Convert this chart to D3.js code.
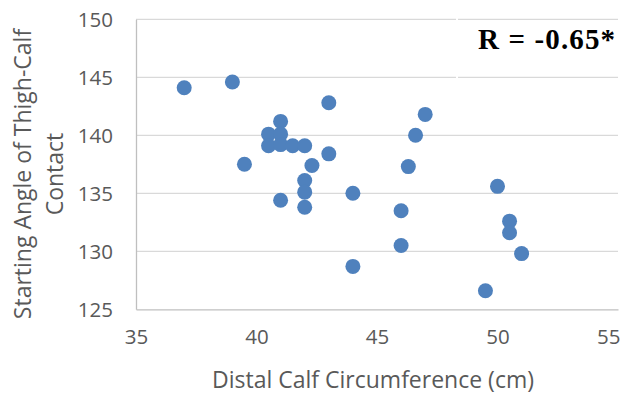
<!DOCTYPE html>
<html>
<head>
<meta charset="utf-8">
<script src="https://cdn.jsdelivr.net/npm/d3@7"></script>
<style>
  html, body { margin: 0; padding: 0; background: #fff; }
  svg { display: block; }
</style>
</head>
<body>
<svg id="chart" width="629" height="397"></svg>
<script>
// Distal calf circumference (cm) and starting angle of thigh-calf contact (deg)
const circumference = [37, 39, 43, 47, 41, 46.6, 40.5, 41, 40.5, 41, 41.5, 42, 43, 39.5, 42.3,
  46.3, 42, 50, 42, 44, 41, 42, 46, 50.5, 50.5, 46, 51, 44, 49.5];
const startAngle = [144.1, 144.6, 142.8, 141.8, 141.2, 140.0, 140.1, 140.1, 139.1, 139.2, 139.1, 139.1, 138.4, 137.5, 137.4,
  137.3, 136.1, 135.6, 135.1, 135.0, 134.4, 133.8, 133.5, 132.6, 131.6, 130.5, 129.8, 128.7, 126.6];

const xTicks = [35, 40, 45, 50, 55];
const yTicks = [125, 130, 135, 140, 145, 150];
const xTitle = "Distal Calf Circumference (cm)";
const yTitleLines = ["Starting Angle of Thigh-Calf", "Contact"];
const rLabel = "R = -0.65*";

const svg = d3.select("#chart");
const plotLeft = 136, plotRight = 618, plotTop = 19.3, plotBottom = 309.3;

const x = d3.scaleLinear().domain([35, 55]).range([plotLeft, plotRight]);
const y = d3.scaleLinear().domain([125, 150]).range([plotBottom, plotTop]);

const font = "'Open Sans', sans-serif";
const textColor = "#595959";

// horizontal gridlines
svg.append("g")
  .selectAll("line")
  .data(yTicks.filter(d => d !== 125))
  .join("line")
  .attr("x1", plotLeft).attr("x2", plotRight)
  .attr("y1", d => y(d)).attr("y2", d => y(d))
  .attr("stroke", "#d9d9d9").attr("stroke-width", 1.3);

// frame edge of the annotation box
svg.append("line")
  .attr("x1", 457).attr("x2", 457).attr("y1", 8).attr("y2", 90)
  .attr("stroke", "#fff").attr("stroke-width", 2);

// y axis
const yAxis = svg.append("g")
  .attr("transform", `translate(${plotLeft},0)`)
  .call(d3.axisLeft(y).tickValues(yTicks).tickSize(0).tickPadding(23));
yAxis.select(".domain").attr("stroke", "#bfbfbf").attr("stroke-width", 1.3);
yAxis.selectAll("text")
  .attr("font-family", font).attr("font-size", 20.5).attr("fill", textColor)
  .attr("dy", "0.36em");

// x axis
const xAxis = svg.append("g")
  .attr("transform", `translate(0,${plotBottom})`)
  .call(d3.axisBottom(x).tickValues(xTicks).tickSize(0).tickPadding(20));
xAxis.select(".domain").attr("stroke", "#bfbfbf").attr("stroke-width", 1.3);
xAxis.selectAll("text")
  .attr("font-family", font).attr("font-size", 20.5).attr("fill", textColor)
  .attr("dy", "0.71em");
// keep the last tick label inside the drawing
xAxis.selectAll(".tick").filter(d => d === 55).select("text")
  .attr("text-anchor", "end").attr("dx", 2);

// axis titles
svg.append("text")
  .attr("x", 373).attr("y", 388)
  .attr("text-anchor", "middle")
  .attr("font-family", font).attr("font-size", 23).attr("fill", textColor)
  .text(xTitle);

const yTitle = svg.append("text")
  .attr("transform", "translate(0,174) rotate(-90)")
  .attr("text-anchor", "middle")
  .attr("font-family", font).attr("font-size", 23).attr("fill", textColor);
yTitle.selectAll("tspan")
  .data(yTitleLines)
  .join("tspan")
  .attr("x", 0)
  .attr("y", (d, i) => 31 + i * 32)
  .text(d => d);

// points
svg.append("g")
  .selectAll("circle")
  .data(circumference.map((c, i) => [c, startAngle[i]]))
  .join("circle")
  .attr("cx", d => x(d[0]))
  .attr("cy", d => y(d[1]))
  .attr("r", 7.5)
  .attr("fill", "#4f81bd");

// correlation annotation
svg.append("text")
  .attr("x", 615).attr("y", 49)
  .attr("text-anchor", "end")
  .attr("font-family", "'Liberation Serif', 'Times New Roman', serif")
  .attr("font-weight", "bold")
  .attr("font-size", 29)
  .attr("textLength", 137)
  .attr("lengthAdjust", "spacing")
  .attr("fill", "#000")
  .text(rLabel);
</script>
</body>
</html>
